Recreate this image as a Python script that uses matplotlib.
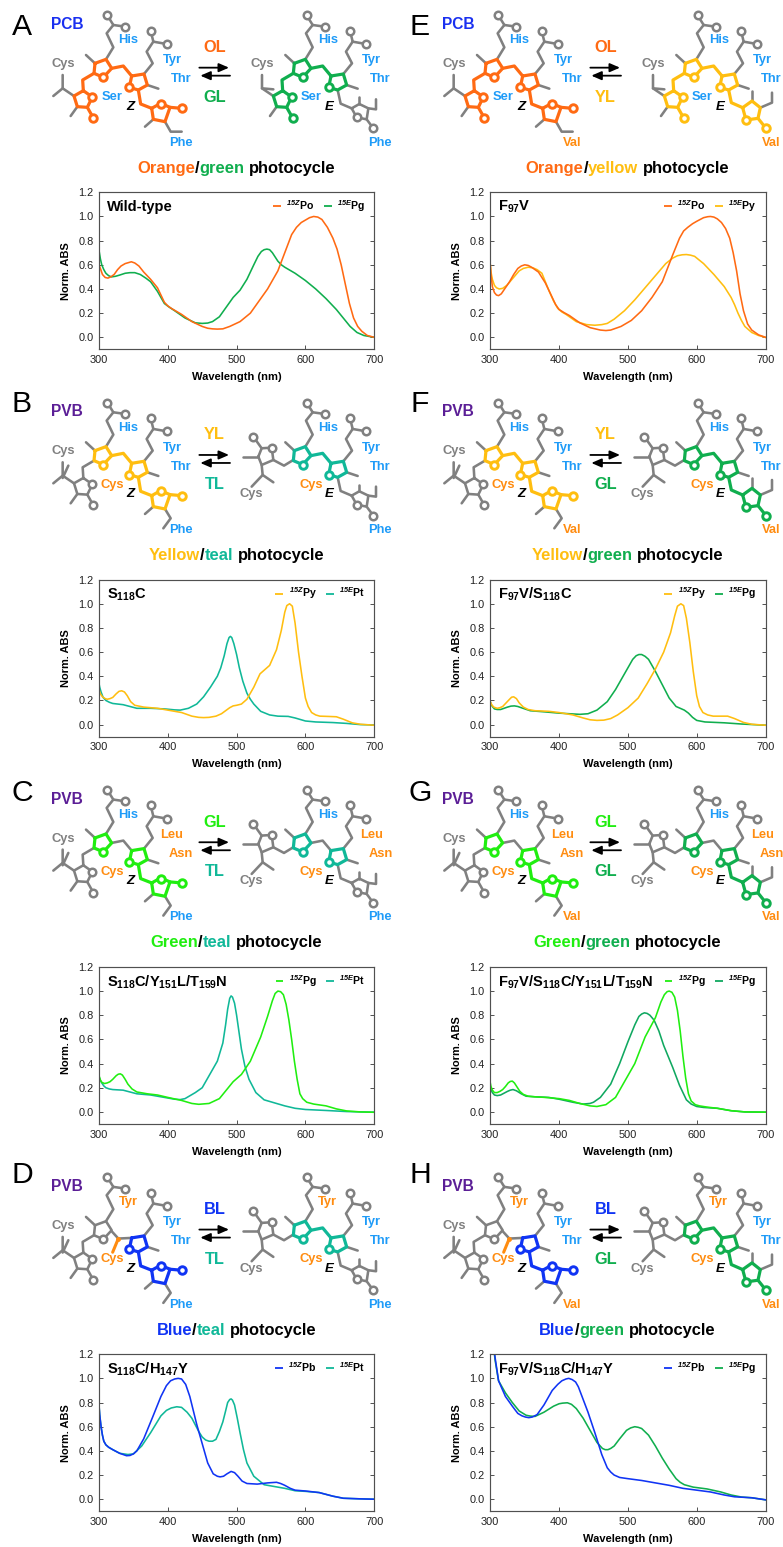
import matplotlib
matplotlib.use("Agg")
import matplotlib.pyplot as plt
from matplotlib.lines import Line2D

plt.rcParams['font.family'] = ['Liberation Sans', 'DejaVu Sans']
plt.rcParams['mathtext.fontset'] = 'custom'
plt.rcParams['mathtext.rm'] = 'Liberation Sans'
plt.rcParams['mathtext.bf'] = 'Liberation Sans:bold'
plt.rcParams['mathtext.it'] = 'Liberation Sans:italic'
plt.rcParams['mathtext.bfit'] = 'Liberation Sans:italic:bold'

# ---------- colours ----------
ORANGE = '#FF6A13'; GREEN = '#10AE4E'; YELLOW = '#FFBE10'; TEAL = '#10B898'
LIME = '#20EE10'; BLUE = '#1034F4'; DKGREEN = '#10A860'
GRAY = '#808080'; LBLUE = '#1E9BF8'; LORANGE = '#FF8C10'; INK = '#000000'
PCBC = '#1A30F0'; PVBC = '#5B1E96'

# ---------- spectra ----------
A_z_x = [300,302,305,309,313,317,322,327,332,338,347,352,358,365,375,385,390,395,400,405,420,435,450,458,465,472,480,490,505,520,530,545,560,570,580,587,594,600,606,612,618,624,632,640,646,652,658,664,670,676,682,690,700]
A_z_y = [.60,.57,.52,.495,.49,.50,.52,.56,.59,.61,.625,.615,.59,.54,.48,.41,.35,.29,.26,.24,.19,.13,.09,.075,.07,.068,.07,.09,.13,.20,.28,.40,.55,.70,.85,.91,.95,.97,.99,1.0,.995,.975,.91,.82,.73,.60,.44,.28,.16,.09,.05,.015,0]
A_e_x = [300,302,304,307,310,314,318,324,330,338,345,352,360,368,375,385,390,395,402,410,425,440,450,458,465,475,485,495,505,515,525,531,536,540,544,548,552,556,560,565,570,585,600,615,630,645,655,665,675,685,700]
A_e_y = [.72,.65,.60,.56,.53,.51,.50,.505,.515,.53,.535,.535,.52,.49,.46,.38,.33,.28,.25,.22,.16,.12,.115,.118,.13,.17,.25,.33,.39,.48,.60,.67,.71,.725,.73,.725,.70,.665,.63,.60,.58,.53,.47,.40,.32,.23,.16,.09,.04,.015,0]

E_z_x = [300,301,303,306,309,312,316,322,328,334,340,345,350,355,360,370,380,390,395,400,407,415,430,445,460,468,475,490,505,520,535,550,565,575,581,587,594,600,610,616,620,625,630,636,642,648,653,658,663,668,674,680,690,700]
E_z_y = [.60,.52,.42,.37,.35,.345,.36,.41,.46,.52,.57,.59,.60,.595,.58,.54,.45,.33,.27,.23,.205,.18,.12,.08,.06,.056,.06,.09,.14,.22,.33,.46,.68,.82,.88,.91,.94,.96,.99,.998,1.0,.995,.98,.95,.90,.82,.70,.55,.36,.22,.11,.06,.02,0]
E_e_x = [300,301,303,306,309,313,318,324,330,336,342,348,355,362,368,375,385,392,398,404,410,425,440,452,462,470,480,495,510,525,540,555,565,572,579,585,591,597,610,625,640,650,655,660,665,670,680,690,700]
E_e_y = [.60,.54,.48,.43,.41,.40,.405,.43,.47,.51,.55,.57,.58,.575,.56,.53,.39,.30,.24,.21,.19,.13,.105,.10,.105,.115,.15,.22,.31,.41,.51,.61,.655,.675,.683,.685,.68,.67,.61,.52,.42,.33,.27,.20,.14,.09,.04,.015,0]

B_z_x = [300,302,305,309,312,316,320,325,329,333,337,341,346,352,365,385,400,420,435,445,452,460,470,478,484,490,495,500,507,515,525,534,548,558,565,570,573,577,581,585,590,595,600,604,609,615,621,632,645,655,668,680,700]
B_z_y = [.29,.255,.23,.215,.21,.215,.225,.255,.275,.28,.27,.24,.19,.16,.145,.135,.12,.10,.07,.06,.058,.06,.07,.09,.115,.14,.155,.16,.17,.21,.31,.42,.49,.62,.78,.93,.985,1.0,.98,.84,.60,.40,.22,.15,.10,.08,.07,.068,.065,.045,.015,.003,-.005]
B_e_x = [300,301,303,306,310,315,320,335,345,355,375,395,410,418,430,442,452,462,472,477,482,486,489,491,493,496,500,504,509,515,520,525,535,548,560,575,585,600,615,640,660,680,700]
B_e_y = [.34,.31,.27,.225,.20,.185,.175,.165,.15,.135,.135,.13,.122,.12,.135,.17,.23,.31,.40,.47,.57,.67,.72,.73,.72,.67,.58,.47,.36,.26,.21,.17,.11,.08,.07,.068,.055,.03,.022,.017,.01,0,-.003]

F_z_x = [300,302,305,310,314,318,323,328,331,334,338,342,348,355,365,385,400,420,435,445,455,465,475,485,500,515,528,540,552,562,568,572,577,581,585,590,595,600,604,609,616,624,645,655,668,680,700]
F_z_y = [.19,.165,.145,.135,.14,.15,.18,.21,.227,.23,.215,.18,.145,.125,.115,.11,.10,.08,.055,.04,.035,.037,.05,.08,.14,.22,.34,.46,.60,.76,.90,.98,1.0,.985,.88,.68,.44,.24,.15,.10,.08,.07,.07,.05,.018,.003,-.005]
F_e_x = [300,301,303,306,310,315,320,325,330,335,340,345,358,380,400,415,430,442,455,470,482,492,500,507,512,516,520,525,530,540,550,560,570,582,588,594,600,612,640,665,700]
F_e_y = [.19,.17,.15,.13,.125,.125,.135,.145,.153,.155,.15,.14,.115,.105,.095,.09,.085,.09,.12,.19,.29,.39,.47,.54,.57,.58,.58,.565,.54,.44,.33,.22,.15,.12,.095,.06,.035,.022,.015,.005,-.005]

C_z_x = [300,302,304,308,312,316,320,325,328,331,334,338,342,348,355,370,385,400,420,435,445,460,475,485,495,507,520,535,545,552,556,560,564,568,572,576,580,584,588,592,596,602,612,630,645,660,680,700]
C_z_y = [.30,.265,.245,.235,.24,.25,.27,.30,.312,.315,.305,.27,.23,.19,.165,.15,.14,.12,.095,.07,.063,.07,.11,.18,.25,.31,.42,.62,.79,.92,.98,1.0,.995,.97,.89,.76,.60,.42,.27,.15,.11,.08,.065,.05,.025,.008,0,-.003]
C_e_x = [300,302,304,307,310,315,320,335,345,355,375,395,410,418,425,440,450,460,472,480,484,487,490,492,494,497,500,503,507,512,518,528,540,555,570,585,600,630,660,680,700]
C_e_y = [.29,.26,.24,.215,.20,.19,.185,.18,.165,.15,.14,.12,.105,.102,.11,.16,.20,.30,.42,.57,.72,.85,.94,.96,.95,.90,.80,.68,.52,.38,.27,.16,.10,.075,.05,.03,.02,.012,.003,0,-.002]

G_z_x = [300,301,303,306,310,314,318,322,326,329,332,335,339,343,348,355,365,380,400,415,430,445,455,468,482,495,510,525,540,548,553,557,560,564,568,572,576,580,584,588,592,598,604,615,630,650,670,700]
G_z_y = [.24,.21,.18,.16,.16,.17,.185,.21,.24,.252,.255,.24,.205,.17,.145,.13,.125,.12,.11,.095,.07,.05,.045,.06,.12,.25,.40,.62,.78,.91,.97,.995,1.0,.99,.95,.84,.67,.46,.28,.15,.09,.06,.05,.04,.03,.01,0,-.002]
G_e_x = [300,301,303,306,310,315,320,325,329,333,338,345,352,365,385,400,420,435,445,450,460,475,488,500,510,516,520,524,528,532,538,545,552,565,575,585,592,600,610,630,650,670,700]
G_e_y = [.21,.185,.16,.14,.135,.14,.155,.17,.18,.185,.175,.15,.13,.125,.12,.105,.08,.065,.07,.08,.12,.23,.40,.58,.72,.79,.81,.82,.815,.80,.76,.67,.55,.37,.22,.10,.065,.045,.037,.03,.01,0,-.002]

D_z_x = [300,301,303,305,307,310,314,320,330,340,345,350,355,365,378,390,398,404,410,415,420,426,432,442,450,458,466,472,476,481,486,492,497,502,508,515,530,545,558,564,570,578,585,600,620,640,655,680,700]
D_z_y = [.78,.70,.60,.53,.48,.45,.43,.41,.38,.36,.362,.375,.40,.50,.68,.85,.94,.98,.995,1.0,.995,.95,.85,.62,.46,.30,.21,.19,.185,.19,.21,.23,.22,.19,.15,.13,.125,.135,.14,.13,.115,.09,.075,.068,.055,.025,.008,.003,0]
D_e_x = [300,301,303,305,307,310,314,320,330,342,350,362,375,390,398,405,413,420,428,435,445,450,455,460,465,470,475,480,484,487,490,492,494,497,501,505,510,515,525,540,555,570,585,600,620,640,655,680,700]
D_e_y = [.78,.70,.60,.53,.48,.45,.43,.41,.38,.37,.375,.44,.55,.69,.735,.755,.765,.76,.72,.67,.56,.515,.49,.48,.48,.495,.56,.64,.73,.80,.825,.83,.82,.78,.67,.55,.41,.30,.19,.12,.105,.09,.07,.065,.055,.025,.008,.003,0]

H_z_x = [300,304,307,312,322,332,340,346,351,356,361,368,378,390,398,404,410,414,419,424,428,432,442,452,462,470,475,480,488,500,520,540,560,580,600,620,640,655,680,700]
H_z_y = [1.55,1.30,1.17,.98,.85,.77,.71,.69,.68,.675,.68,.70,.78,.90,.95,.98,.995,1.0,.99,.97,.93,.87,.72,.55,.37,.26,.225,.20,.18,.17,.155,.135,.115,.09,.075,.06,.035,.02,.012,-.005]
H_e_x = [300,304,307,312,322,332,342,352,358,365,378,392,400,405,412,418,425,435,445,455,463,467,471,475,480,488,498,504,510,515,520,530,540,550,560,570,576,582,595,615,635,650,665,680,700]
H_e_y = [1.55,1.30,1.15,.98,.88,.80,.73,.695,.688,.685,.72,.77,.79,.795,.798,.785,.75,.67,.57,.47,.42,.41,.41,.42,.44,.50,.57,.59,.60,.595,.585,.53,.44,.34,.25,.17,.14,.12,.10,.085,.06,.035,.018,.012,-.005]

# ---------- panel table: curves and labels ----------
panels = [
 dict(k='A', col=0, row=0, lig='PCB', title='Wild-type', z=(A_z_x,A_z_y,ORANGE,'Po'), e=(A_e_x,A_e_y,GREEN,'Pg'),
      words=[('Orange',ORANGE),('/',INK),('green',GREEN)], l1=('OL',ORANGE), l2=('GL',GREEN),
      res=[('His',LBLUE),('Tyr',LBLUE),('Thr',LBLUE),('Ser',LBLUE)],
      zc=dict(A=ORANGE,B=ORANGE,BC=ORANGE,C=ORANGE,D=ORANGE), ec=dict(A=GREEN,B=GREEN,BC=GREEN,C=GREEN,D=None), ky=27),
 dict(k='B', col=0, row=1, lig='PVB', title=r'$\mathbf{S_{118}C}$', z=(B_z_x,B_z_y,YELLOW,'Py'), e=(B_e_x,B_e_y,TEAL,'Pt'),
      words=[('Yellow',YELLOW),('/',INK),('teal',TEAL)], l1=('YL',YELLOW), l2=('TL',TEAL),
      res=[('His',LBLUE),('Tyr',LBLUE),('Thr',LBLUE),('Cys',LORANGE)],
      zc=dict(A=None,B=YELLOW,BC=YELLOW,C=YELLOW,D=YELLOW), ec=dict(A=None,B=TEAL,BC=TEAL,C=TEAL,D=None), ky=17),
 dict(k='C', col=0, row=2, lig='PVB', title=r'$\mathbf{S_{118}C/Y_{151}L/T_{159}N}$', z=(C_z_x,C_z_y,LIME,'Pg'), e=(C_e_x,C_e_y,TEAL,'Pt'),
      words=[('Green',LIME),('/',INK),('teal',TEAL)], l1=('GL',LIME), l2=('TL',TEAL),
      res=[('His',LBLUE),('Leu',LORANGE),('Asn',LORANGE),('Cys',LORANGE)],
      zc=dict(A=None,B=LIME,BC=None,C=LIME,D=LIME), ec=dict(A=None,B=TEAL,BC=None,C=TEAL,D=None), ky=18),
 dict(k='D', col=0, row=3, lig='PVB', title=r'$\mathbf{S_{118}C/H_{147}Y}$', z=(D_z_x,D_z_y,BLUE,'Pb'), e=(D_e_x,D_e_y,TEAL,'Pt'),
      words=[('Blue',BLUE),('/',INK),('teal',TEAL)], l1=('BL',BLUE), l2=('TL',TEAL),
      res=[('Tyr',LORANGE),('Tyr',LBLUE),('Thr',LBLUE),('Cys',LORANGE)],
      zc=dict(A=None,B=None,BC='adduct',C=BLUE,D=BLUE), ec=dict(A=None,B=TEAL,BC=TEAL,C=TEAL,D=None), ky=13),
 dict(k='E', col=1, row=0, lig='PCB', title=r'$\mathbf{F_{97}V}$', z=(E_z_x,E_z_y,ORANGE,'Po'), e=(E_e_x,E_e_y,YELLOW,'Py'),
      words=[('Orange',ORANGE),('/',INK),('yellow',YELLOW)], l1=('OL',ORANGE), l2=('YL',YELLOW),
      res=[('His',LBLUE),('Tyr',LBLUE),('Thr',LBLUE),('Ser',LBLUE)],
      zc=dict(A=ORANGE,B=ORANGE,BC=ORANGE,C=ORANGE,D=ORANGE), ec=dict(A=YELLOW,B=YELLOW,BC=YELLOW,C=YELLOW,D=YELLOW), ky=27),
 dict(k='F', col=1, row=1, lig='PVB', title=r'$\mathbf{F_{97}V/S_{118}C}$', z=(F_z_x,F_z_y,YELLOW,'Py'), e=(F_e_x,F_e_y,GREEN,'Pg'),
      words=[('Yellow',YELLOW),('/',INK),('green',GREEN)], l1=('YL',YELLOW), l2=('GL',GREEN),
      res=[('His',LBLUE),('Tyr',LBLUE),('Thr',LBLUE),('Cys',LORANGE)],
      zc=dict(A=None,B=YELLOW,BC=YELLOW,C=YELLOW,D=YELLOW), ec=dict(A=None,B=GREEN,BC=GREEN,C=GREEN,D=GREEN), ky=17),
 dict(k='G', col=1, row=2, lig='PVB', title=r'$\mathbf{F_{97}V/S_{118}C/Y_{151}L/T_{159}N}$', z=(G_z_x,G_z_y,LIME,'Pg'), e=(G_e_x,G_e_y,DKGREEN,'Pg'),
      words=[('Green',LIME),('/',INK),('green',GREEN)], l1=('GL',LIME), l2=('GL',GREEN),
      res=[('His',LBLUE),('Leu',LORANGE),('Asn',LORANGE),('Cys',LORANGE)],
      zc=dict(A=None,B=LIME,BC=None,C=LIME,D=LIME), ec=dict(A=None,B=GREEN,BC=None,C=GREEN,D=GREEN), ky=18),
 dict(k='H', col=1, row=3, lig='PVB', title=r'$\mathbf{F_{97}V/S_{118}C/H_{147}Y}$', z=(H_z_x,H_z_y,BLUE,'Pb'), e=(H_e_x,H_e_y,GREEN,'Pg'),
      words=[('Blue',BLUE),('/',INK),('green',GREEN)], l1=('BL',BLUE), l2=('GL',GREEN),
      res=[('Tyr',LORANGE),('Tyr',LBLUE),('Thr',LBLUE),('Cys',LORANGE)],
      zc=dict(A=None,B=None,BC='adduct',C=BLUE,D=BLUE), ec=dict(A=None,B=GREEN,BC=GREEN,C=GREEN,D=GREEN), ky=13),
]

X_TICKS = [300,400,500,600,700]
Y_TICKS = [0.0,0.2,0.4,0.6,0.8,1.0,1.2]

# ---------- layout (pixels) ----------
W, H = 783, 1547
COLX = [99.0, 490.3]; AXW = 275.2; ROWY = 192.3; STEP = 387.3; AXH = 157.1; COLSTEP = 391

fig = plt.figure(figsize=(W/100, H/100), dpi=100, facecolor='white')
bg = fig.add_axes([0,0,1,1], zorder=0)
bg.set_xlim(0,W); bg.set_ylim(H,0); bg.axis('off')

# ---------- pigment sketch, coordinates in 1/3 px within a panel ----------
def draw(pts, c, col, row, sh=0):
    xs = [(p[0]+sh)/3 + col*COLSTEP for p in pts]
    ys = [p[1]/3 + row*STEP for p in pts]
    lw = 1.85 if c == GRAY else 2.3
    bg.plot(xs, ys, color=c, lw=lw, solid_joinstyle='round', solid_capstyle='round', zorder=2 if c == GRAY else 2.5)

def dots(pts, c, col, row, sh=0):
    xs = [(p[0]+sh)/3 + col*COLSTEP for p in pts]
    ys = [p[1]/3 + row*STEP for p in pts]
    bg.plot(xs, ys, ls='', marker='o', ms=5.4, mfc='white', mec=c, mew=1.8 if c == GRAY else 2.1, zorder=3)

RING_A = [(250,272),(277,291),(262,322),(232,320),(222,288),(250,272)]
BR_AB = [(250,272),(248,240),(282,220)]
RING_B = [(285,190),(318,178),(335,205),(310,232),(282,220),(285,190)]
BR_BC = [(335,205),(370,198),(395,228)]
BR_ADD = [(335,208),(355,230),(395,228)]
RING_C = [(395,228),(432,222),(442,255),(415,270),(388,262),(395,228)]
RING_D = [(455,325),(482,310),(510,322),(495,365),(460,358),(455,325)]
BR_CD = [(415,270),(422,312),(455,325)]
PROP1 = [(318,178),(340,142),(320,100),(340,75)]
PROP2 = [(432,222),(458,190),(440,155),(460,125)]

def molecule(p, form):
    col, row = p['col'], p['row']
    sh = 0 if form == 'z' else 598
    cmap = p['zc'] if form == 'z' else p['ec']
    g = lambda key: cmap[key] if cmap[key] else GRAY
    pvb = p['lig'] == 'PVB'
    # shared propionates and methyls
    draw(PROP1, GRAY, col, row, sh); draw([(340,75),(376,80)], GRAY, col, row, sh); draw([(340,75),(322,46)], GRAY, col, row, sh)
    dots([(322,46),(376,80)], GRAY, col, row, sh)
    draw(PROP2, GRAY, col, row, sh); draw([(460,125),(500,132)], GRAY, col, row, sh); draw([(460,125),(452,92)], GRAY, col, row, sh)
    dots([(452,92),(500,132)], GRAY, col, row, sh)
    draw([(285,190),(258,165)], GRAY, col, row, sh)
    draw([(442,255),(475,266)], GRAY, col, row, sh)
    # ring A
    if form == 'e' and pvb:
        a = [(775,208),(785,233),(820,218),(815,181),(785,183),(775,208)]
        draw(a, GRAY, col, row)
        draw([(785,183),(760,148)], GRAY, col, row)
        draw([(775,208),(730,208)], GRAY, col, row)
        draw([(785,233),(788,263),(755,298)], GRAY, col, row)
        draw([(788,263),(820,285)], GRAY, col, row)
        draw([(820,218),(852,235),(880,218)], GRAY, col, row)
        dots([(815,181),(760,148)], GRAY, col, row)
    else:
        ca = g('A')
        draw([(222,288),(188,265),(188,225)], GRAY, col, row, sh)
        if form == 'e':
            draw([(188,265),(222,268)], GRAY, col, row, sh)
        else:
            draw([(188,265),(160,288)], GRAY, col, row, sh)
        if pvb:
            draw([(188,272),(205,235)], GRAY, col, row, sh)
        draw([(232,320),(212,348)], GRAY, col, row, sh)
        draw(RING_A, ca, col, row, sh); draw(BR_AB, ca, col, row, sh)
        draw([(262,322),(280,354)], ca, col, row, sh)
        dots([(277,291),(280,354)], ca, col, row, sh)
    # ring B, bridge
    cb = g('B')
    draw(RING_B, cb, col, row, sh); dots([(310,232)], cb, col, row, sh)
    if cmap['BC'] == 'adduct':
        draw(BR_ADD, GRAY, col, row, sh)
        xa, ya = 355/3 + col*COLSTEP, 230/3 + row*STEP
        bg.plot([xa, 338/3 + col*COLSTEP], [ya, 271/3 + row*STEP], color=LORANGE, lw=2.2, solid_capstyle='round', zorder=4)
        bg.plot([xa],[ya], marker='o', ms=3.5, color=LORANGE, mew=0, zorder=4)
    else:
        draw(BR_BC, g('BC'), col, row, sh)
    # ring C
    cc = g('C')
    draw(RING_C, cc, col, row, sh); dots([(388,262)], cc, col, row, sh)
    # ring D
    cd = g('D')
    if form == 'z':
        draw([(460,358),(435,380)], GRAY, col, row)
        if pvb:
            draw([(495,365),(512,393),(490,423)], GRAY, col, row)
        else:
            draw([(495,365),(512,395),(545,395)], GRAY, col, row)
        draw(BR_CD, cd, col, row); draw(RING_D, cd, col, row)
        draw([(510,322),(545,325)], cd, col, row)
        dots([(482,312),(545,325)], cd, col, row)
    elif col == 0:
        draw([(1078,312),(1078,292)], GRAY, col, row)
        draw([(1105,325),(1128,328),(1128,298)], GRAY, col, row)
        draw([(1013,270),(1022,311),(1055,325)], cd, col, row)
        draw([(1055,325),(1070,352),(1100,358),(1105,325),(1078,312),(1055,325)], cd, col, row)
        draw([(1100,358),(1120,385)], cd, col, row)
        dots([(1070,352),(1120,385)], cd, col, row)
    else:
        draw([(1083,303),(1083,273)], GRAY, col, row)
        draw([(1108,323),(1143,308),(1143,278)], GRAY, col, row)
        draw([(1013,270),(1021,308),(1055,323)], cd, col, row)
        draw([(1055,323),(1065,360),(1101,355),(1108,323),(1083,303),(1055,323)], cd, col, row)
        draw([(1101,355),(1125,385)], cd, col, row)
        dots([(1065,360),(1125,385)], cd, col, row)

def label(zx, zy, s, c, p, size=9.3, **kw):
    bg.text(zx/3 + p['col']*COLSTEP, zy/3 + p['row']*STEP, s, color=c, fontsize=size,
            fontweight=kw.pop('fontweight','bold'), ha='center', va='center', zorder=5, **kw)

renderer = fig.canvas.get_renderer()

def colored_title(p):
    words = list(p['words'])
    size = 11.9
    gap = 4.6
    ts = []
    for s, c in words + [('photocycle', INK)]:
        t = bg.text(0, p['row']*STEP + 168.3, s, color=c, fontsize=size, fontweight='bold', ha='left', va='center', zorder=5)
        ts.append(t)
    widths = [t.get_window_extent(renderer).width for t in ts]
    total = sum(widths) + gap
    x = 236.5 + p['col']*COLSTEP - total/2
    for i, (t, w) in enumerate(zip(ts, widths)):
        if i == len(ts)-1:
            x += gap
        t.set_x(x)
        x += w

for p in panels:
    col, row = p['col'], p['row']
    lx = 22 if col == 0 else 420
    bg.text(lx, row*STEP + p['ky'], p['k'], fontsize=21.7, color=INK, ha='center', va='center', zorder=5)
    label(202, 74, p['lig'], PCBC if p['lig']=='PCB' else PVBC, p, size=11.2)
    molecule(p, 'z'); molecule(p, 'e')
    pos = [(385,121),(516,181),(543,238),(336,292)]
    for (zx,zy),(s,c) in zip(pos, p['res']):
        label(zx,zy,s,c,p); label(zx+598,zy,s,c,p)
    label(190,192,'Cys',GRAY,p)
    if p['lig']=='PCB':
        label(788,192,'Cys',GRAY,p)
    else:
        label(755,320,'Cys',GRAY,p)
    end = ('Phe',LBLUE) if col==0 else ('Val',LORANGE)
    label(543,428,end[0],end[1],p); label(1141,428,end[0],end[1],p)
    label(390,320,'Z',INK,p,size=9.5,style='italic'); label(988,320,'E',INK,p,size=9.5,style='italic')
    label(644,143,p['l1'][0],p['l1'][1],p,size=11.8); label(644,292,p['l2'][0],p['l2'][1],p,size=11.8)
    y1, y2 = 203/3 + row*STEP, 227/3 + row*STEP
    x1, x2 = 598/3 + col*COLSTEP, 690/3 + col*COLSTEP
    style = '-|>,head_length=0.6,head_width=0.26'
    bg.annotate('', xy=(x2-1,y1), xytext=(x1,y1), arrowprops=dict(arrowstyle=style, color=INK, lw=1.3, shrinkA=0, shrinkB=0), zorder=5)
    bg.annotate('', xy=(x1+1,y2), xytext=(x2,y2), arrowprops=dict(arrowstyle=style, color=INK, lw=1.3, shrinkA=0, shrinkB=0), zorder=5)
    colored_title(p)

    top = ROWY + row*STEP
    ax = fig.add_axes([COLX[col]/W, 1-(top+AXH)/H, AXW/W, AXH/H], zorder=2)
    ax.patch.set_alpha(0)
    ax.set_xlim(300,700); ax.set_ylim(-0.1,1.2)
    ax.set_xticks(X_TICKS); ax.set_yticks(Y_TICKS)
    ax.set_yticklabels([f'{v:.1f}' for v in Y_TICKS])
    ax.tick_params(direction='in', length=2.6, width=0.7, color='#505050', labelsize=7.9, labelcolor='#222222', pad=4, left=True, right=True, bottom=True, top=False)
    for s in ax.spines.values():
        s.set_linewidth(0.85); s.set_color('#505050')
    ax.plot(p['e'][0], p['e'][1], color=p['e'][2], lw=1.15, solid_joinstyle='round')
    ax.plot(p['z'][0], p['z'][1], color=p['z'][2], lw=1.15, solid_joinstyle='round')
    ax.set_xlabel('Wavelength (nm)', fontsize=8.0, fontweight='bold', va='center')
    ax.set_ylabel('Norm. ABS', fontsize=7.9, fontweight='bold', va='center')
    ax.xaxis.set_label_coords(0.5, -27.6/AXH)
    ax.yaxis.set_label_coords(-33/AXW, 0.5)
    ax.text(8/AXW, 1-15/AXH, p['title'], transform=ax.transAxes, fontsize=10.5, fontweight='bold', ha='left', va='center', color=INK)
    hs = [Line2D([0],[0],color=p['z'][2],lw=1.3,solid_capstyle='butt'), Line2D([0],[0],color=p['e'][2],lw=1.3,solid_capstyle='butt')]
    ls = [r'$^{\mathbfit{15Z}}\mathbf{%s}$' % p['z'][3], r'$^{\mathbfit{15E}}\mathbf{%s}$' % p['e'][3]]
    ax.legend(hs, ls, ncol=2, loc='upper right', bbox_to_anchor=(1-9.3/AXW, 1-6/AXH), frameon=False, fontsize=7.6,
              handlelength=0.75, handletextpad=0.5, columnspacing=0.9, borderpad=0, borderaxespad=0)

fig.savefig('out.png', dpi=100, facecolor='white')
